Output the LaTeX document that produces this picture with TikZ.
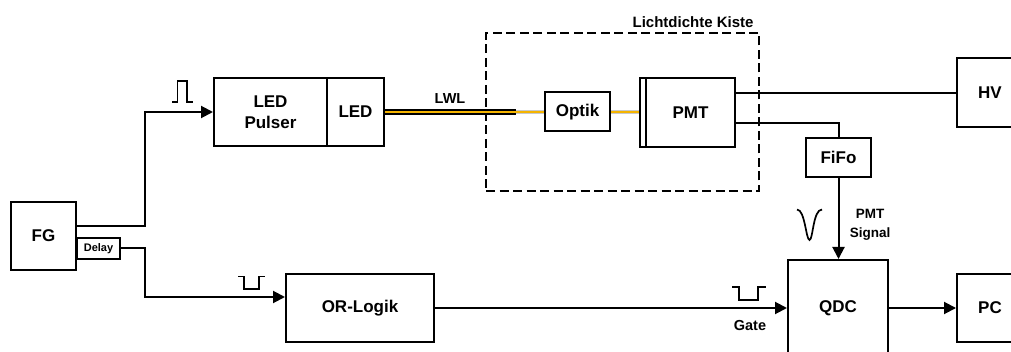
\documentclass[tikz,border=0pt]{standalone}
\usepackage{fontspec}
\setmainfont{Liberation Sans}
\usetikzlibrary{arrows.meta,calc}
\definecolor{fiber}{RGB}{245,180,0}
\definecolor{fibergray}{RGB}{200,200,200}
\tikzset{
  blk/.style={draw=black,line width=2pt,minimum width=#1,inner sep=0pt,align=center,font=\fontsize{17}{21}\selectfont\bfseries},
  wire/.style={draw=black,line width=2pt},
  arrowwire/.style={wire,-{Triangle[length=12pt,width=12pt]}},
  pulse/.style={draw=black,line width=1.7pt},
  lbl/.style={inner sep=0pt,font=\fontsize{14.5}{19}\selectfont\bfseries,align=center},
  enclosure/.style={draw=black,line width=2pt,dash pattern=on 9pt off 4.5pt},
}
\begin{document}
\begin{tikzpicture}[x=1pt,y=-1pt]
\useasboundingbox (0,0) rectangle (1011,352);
\clip (0,0) rectangle (1011,352);
% boxes
\node[blk=65pt,minimum height=68pt] (fg) at (43.5,236) {FG};
\node[blk=43pt,minimum height=21pt,font=\fontsize{11}{12}\selectfont\bfseries] (delay) at (98.5,248.5) {Delay};
\node[blk=113pt,minimum height=68pt] (pulser) at (270.5,112) {LED\\Pulser};
\node[blk=57pt,minimum height=68pt] (led) at (355.5,112) {LED};
\node[blk=65pt,minimum height=39pt] (optik) at (577.5,112) {Optik};
\node[blk=6pt,minimum height=69pt] (pmtbar) at (643,112.5) {};
\node[blk=89pt,minimum height=69pt] (pmt) at (690.5,112.5) {PMT};
\node[blk=66pt,minimum height=69pt] (hv) at (990,93) {HV};
\node[blk=65pt,minimum height=39pt] (fifo) at (838.5,157.5) {FiFo};
\node[blk=100pt,minimum height=96pt] (qdc) at (838,308) {QDC};
\node[blk=66pt,minimum height=68pt] (pc) at (990,308) {PC};
\node[blk=148pt,minimum height=68pt] (orl) at (360,308) {OR-Logik};
% enclosure
\node[enclosure,minimum width=273pt,minimum height=158pt,inner sep=0pt] (kiste) at (622.5,112) {};
\node[lbl,font=\fontsize{15}{19}\selectfont\bfseries] (kistelabel) at (693,22) {Lichtdichte Kiste};
% fibre
\coordinate (fibreend) at (516,112);
\draw[fibergray,line width=3.2pt] (fibreend) -- (optik.west);
\draw[fiber,line width=2.6pt] (fibreend) -- (optik.west);
\draw[fibergray,line width=3.2pt] (optik.east) -- (pmtbar.west |- optik.east);
\draw[fiber,line width=2.6pt] (optik.east) -- (pmtbar.west |- optik.east);
\draw[black,line width=6pt] (led.east |- fibreend) -- (fibreend);
\draw[fiber,line width=2.2pt] (led.east |- fibreend) -- (fibreend);
\node[lbl] (lwl) at (450,99) {LWL};
% wires
\coordinate (fgout) at ($(fg.east)+(0,-10)$);
\coordinate (k1) at (145,0);
\coordinate (orin) at ($(orl.west)+(0,-11)$);
\draw[arrowwire] (fgout) -| (k1 |- pulser.west) -- (pulser.west);
\draw[arrowwire] (delay.east) -| (k1 |- orin) -- (orin);
\draw[arrowwire] (orl.east) -- (qdc.west);
\draw[arrowwire] (qdc.east) -- (pc.west);
\draw[arrowwire] (fifo.south) -- (qdc.north -| fifo.south);
\draw[wire] (pmt.east |- hv.west) -- (hv.west);
\draw[wire] (pmt.east |- 0,123) -| (fifo.north);
\node[lbl,font=\fontsize{13.5}{19}\selectfont\bfseries] (pmtsig) at (870,225) {PMT\\Signal};
\node[lbl] (gate) at (750,326) {Gate};
% pulse symbols
\draw[pulse] (172,102) -- (177.5,102) -- (177.5,81) -- (187,81) -- (187,102) -- (193,102);
\draw[pulse] (238,276.5) -- (244,276.5) -- (244,289) -- (259,289) -- (259,276.5) -- (265,276.5);
\draw[pulse] (732,287) -- (739,287) -- (739,300) -- (758,300) -- (758,287) -- (766,287);
\draw[pulse] (797,209.5) .. controls (805,209.5) and (806,240) .. (809.5,240) .. controls (813,240) and (813,209.5) .. (822,209.5);
\end{tikzpicture}
\end{document}
